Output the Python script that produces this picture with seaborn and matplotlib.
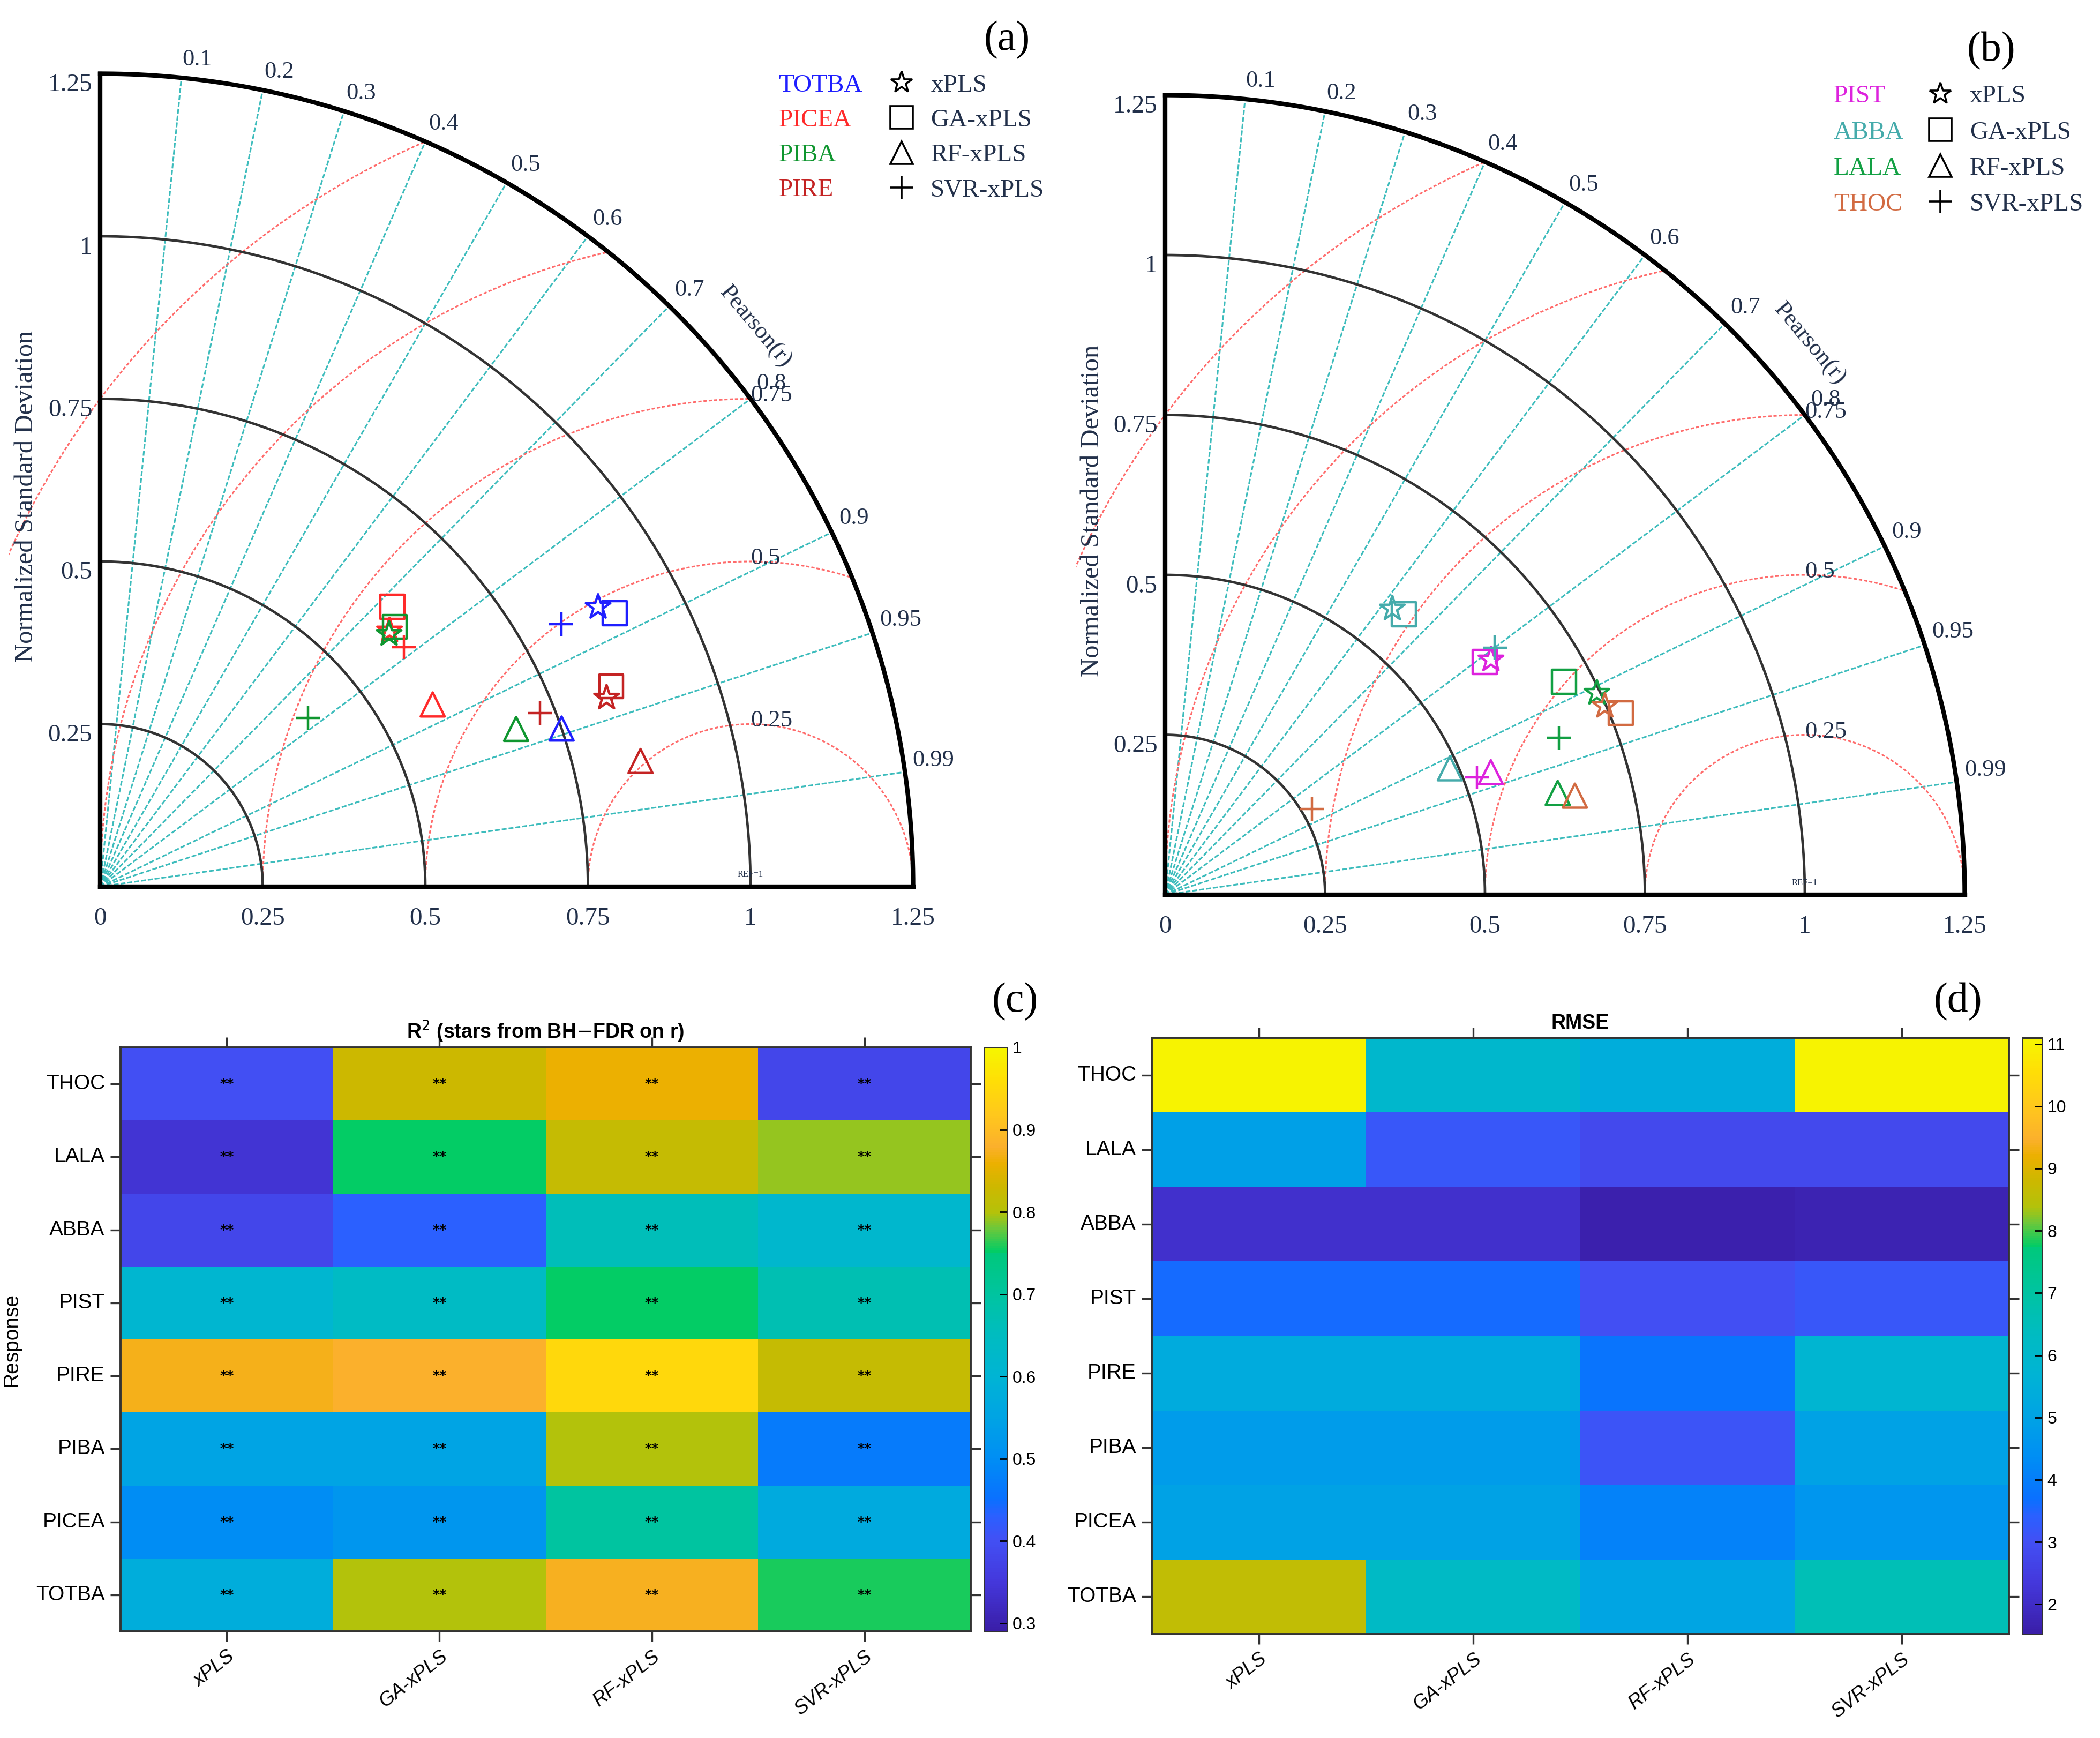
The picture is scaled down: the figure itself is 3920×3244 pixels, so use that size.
import numpy as np
import pandas as pd
import matplotlib
matplotlib.use('Agg')
import matplotlib.pyplot as plt
import seaborn as sns
from matplotlib.colors import LinearSegmentedColormap
from matplotlib.lines import Line2D

# ---------------- data ----------------
models = ['xPLS', 'GA-xPLS', 'RF-xPLS', 'SVR-xPLS']
markers = {'xPLS': '*', 'GA-xPLS': 's', 'RF-xPLS': '^', 'SVR-xPLS': '+'}

# Taylor (a): normalized std and Pearson r, order = models
resp_a = ['TOTBA', 'PICEA', 'PIBA', 'PIRE']
colors_a = ['#1f1fff', '#ff2a2a', '#0f962f', '#c42323']
std_totba = [0.878, 0.896, 0.750, 0.816]
r_totba = [0.872, 0.883, 0.946, 0.869]
std_picea = [0.594, 0.622, 0.583, 0.595]
r_picea = [0.749, 0.722, 0.877, 0.785]
std_piba = [0.590, 0.604, 0.684, 0.412]
r_piba = [0.753, 0.750, 0.935, 0.776]
std_pire = [0.831, 0.844, 0.853, 0.727]
r_pire = [0.937, 0.931, 0.974, 0.930]

# Taylor (b)
resp_b = ['PIST', 'ABBA', 'LALA', 'THOC']
colors_b = ['#dd22dd', '#45abab', '#12a043', '#d26b42']
std_pist = [0.628, 0.618, 0.544, 0.521]
r_pist = [0.811, 0.808, 0.936, 0.936]
std_abba = [0.571, 0.576, 0.487, 0.644]
r_abba = [0.622, 0.648, 0.914, 0.800]
std_lala = [0.745, 0.707, 0.634, 0.663]
r_lala = [0.906, 0.882, 0.968, 0.929]
std_thoc = [0.748, 0.767, 0.659, 0.266]
r_thoc = [0.919, 0.929, 0.972, 0.864]

corr_ticks = [0.1, 0.2, 0.3, 0.4, 0.5, 0.6, 0.7, 0.8, 0.9, 0.95, 0.99]
std_ticks = [0.25, 0.5, 0.75, 1.0, 1.25]
rms_levels = [0.25, 0.5, 0.75, 1.0, 1.25]

# heatmaps, rows top -> bottom
rows = ['THOC', 'LALA', 'ABBA', 'PIST', 'PIRE', 'PIBA', 'PICEA', 'TOTBA']
r2_xpls = [0.40, 0.34, 0.38, 0.61, 0.87, 0.55, 0.50, 0.58]
r2_ga = [0.83, 0.752, 0.43, 0.64, 0.88, 0.55, 0.52, 0.80]
r2_rf = [0.86, 0.82, 0.66, 0.752, 0.95, 0.80, 0.70, 0.875]
r2_svr = [0.38, 0.79, 0.62, 0.67, 0.82, 0.47, 0.57, 0.758]

rmse_xpls = [11.0, 4.9, 2.1, 3.6, 5.3, 4.8, 5.0, 8.6]
rmse_ga = [6.0, 3.2, 2.1, 3.6, 5.3, 4.8, 5.0, 6.2]
rmse_rf = [5.4, 2.8, 1.6, 3.0, 3.8, 3.1, 4.1, 5.1]
rmse_svr = [11.0, 2.8, 1.7, 3.2, 5.8, 5.0, 4.6, 6.6]

# parula-like colormap
cm_pos = [0.0, 0.085, 0.155, 0.197, 0.225, 0.296, 0.366, 0.437, 0.507, 0.577,
          0.648, 0.650, 0.690, 0.718, 0.761, 0.803, 0.831, 0.887, 0.944, 1.0]
cm_col = ['#3a1ea8', '#4438dc', '#4250f4', '#2a60ff', '#0a70ff', '#008ef4', '#00a4e4',
          '#00b4d4', '#00bcc0', '#00c4a0', '#00c87c', '#00cc66', '#6cc83a', '#b4c20a',
          '#ccb800', '#ecb000', '#fbb02c', '#ffc81c', '#ffde06', '#f6f600']
parula = LinearSegmentedColormap.from_list('parula_like', list(zip(cm_pos, cm_col)))

navy = '#22304a'
serif = 'Liberation Serif'
sans = 'Liberation Sans'

fig = plt.figure(figsize=(19.6, 16.22), dpi=200)


def taylor(ax, resp, cols, stds, rs, legend_xy, marker_x, row_h):
    ax.set_xlim(-0.14, 1.45)
    ax.set_ylim(-0.12, 1.36)
    ax.axis('off')
    th = np.linspace(0, np.pi / 2, 300)
    # std arcs
    for s in std_ticks[:-1]:
        ax.plot(s * np.cos(th), s * np.sin(th), color='#333333', lw=1.7, zorder=2)
    ax.plot(1.25 * np.cos(th), 1.25 * np.sin(th), color='black', lw=3.0, zorder=3)
    ax.plot([0, 1.25], [0, 0], color='black', lw=3.0, zorder=3)
    ax.plot([0, 0], [0, 1.25], color='black', lw=3.0, zorder=3)
    # correlation rays
    for c in corr_ticks:
        a = np.arccos(c)
        ax.plot([0, 1.25 * np.cos(a)], [0, 1.25 * np.sin(a)], color='#3cbcbc',
                lw=1.1, ls=(0, (3, 1.2)), zorder=1)
        ax.text(1.262 * np.cos(a), 1.262 * np.sin(a), f'{c:g}', ha='left', va='bottom',
                fontsize=16, family=serif, color=navy)
    # centred RMS arcs
    ph = np.linspace(0, np.pi, 400)
    for rr in rms_levels:
        x = 1 + rr * np.cos(ph)
        y = rr * np.sin(ph)
        m = x ** 2 + y ** 2 <= 1.25 ** 2 + 1e-9
        ax.plot(np.where(m, x, np.nan), np.where(m, y, np.nan), color='#ff6b6b',
                lw=1.1, ls=(0, (2, 1.2)), zorder=1)
        if rr < 1:
            ax.text(1.0, rr + 0.005, f'{rr:g}', ha='left', va='center', fontsize=16,
                    family=serif, color=navy)
    ax.text(1.0, 0.012, 'REF=1', ha='center', va='bottom', fontsize=6,
            family=serif, color=navy)
    # std tick labels
    for s in [0] + std_ticks:
        ax.text(s, -0.032, f'{s:g}', ha='center', va='top', fontsize=17,
                family=serif, color=navy)
    for s in std_ticks:
        ax.text(-0.012, s, f'{s:g}', ha='right', va='top', fontsize=17,
                family=serif, color=navy)
    ax.text(-0.114, 0.6, 'Normalized Standard Deviation', rotation=90, ha='center',
            va='center', fontsize=17.5, family=serif, color=navy)
    ang = np.deg2rad(40.5)
    ax.text(1.325 * np.cos(ang), 1.325 * np.sin(ang), 'Pearson(r)', rotation=-50,
            ha='center', va='center', fontsize=16, family=serif, color=navy)

    # points
    recs = []
    for name, s_list, r_list in zip(resp, stds, rs):
        for mod, s, r in zip(models, s_list, r_list):
            recs.append({'response': name, 'model': mod, 'std': s, 'r': r})
    df = pd.DataFrame(recs)
    df['x'] = df['std'] * df['r']
    df['y'] = df['std'] * np.sqrt(1 - df['r'] ** 2)
    pal = dict(zip(resp, cols))
    for mod in models:
        sub = df[df['model'] == mod]
        n0 = len(ax.collections)
        sns.scatterplot(data=sub, x='x', y='y', hue='response', palette=pal,
                        hue_order=resp, marker=markers[mod],
                        s=300 if mod == 'xPLS' else 260, legend=False, ax=ax, zorder=5)
        for pc in ax.collections[n0:]:
            fc = pc.get_facecolors()
            pc.set_edgecolors(fc)
            pc.set_facecolors('none')
            pc.set_linewidths(1.6)
    ax.set_xlabel('')
    ax.set_ylabel('')

    # legends
    h1 = [Line2D([], [], ls='none') for _ in resp]
    leg1 = ax.legend(h1, resp, loc='upper left', bbox_to_anchor=legend_xy,
                     bbox_transform=ax.transData, frameon=False, handlelength=0,
                     handletextpad=0, borderpad=0, borderaxespad=0, labelcolor=cols,
                     prop={'family': serif, 'size': 17}, labelspacing=row_h)
    ax.add_artist(leg1)
    h2 = [Line2D([], [], ls='none', marker=markers[m], color='black', mfc='none',
                 markersize=15, mew=1.3) for m in models]
    ax.legend(h2, models, loc='upper left', bbox_to_anchor=(marker_x, legend_xy[1]),
              bbox_transform=ax.transData, frameon=False, handlelength=1.0,
              handletextpad=0.66, borderpad=0, borderaxespad=0,
              prop={'family': serif, 'size': 17}, labelspacing=row_h, labelcolor=navy)


W, H = 3920, 3244
# panel a: origin (187,1655), 1214 px/unit
ax_a = fig.add_axes([(187 - 0.14 * 1214) / W, (H - 1655 - 0.12 * 1214) / H,
                     1.59 * 1214 / W, 1.48 * 1214 / H])
taylor(ax_a, resp_a, colors_a,
       [std_totba, std_picea, std_piba, std_pire], [r_totba, r_picea, r_piba, r_pire],
       (1.043, 1.250), 1.2125, 0.47)
# panel b: origin (2175,1670), 1194 px/unit
ax_b = fig.add_axes([(2175 - 0.14 * 1194) / W, (H - 1670 - 0.12 * 1194) / H,
                     1.59 * 1194 / W, 1.48 * 1194 / H])
taylor(ax_b, resp_b, colors_b,
       [std_pist, std_abba, std_lala, std_thoc], [r_pist, r_abba, r_lala, r_thoc],
       (1.045, 1.266), 1.192, 0.51)

# ---------------- heatmaps ----------------
r2 = pd.DataFrame({'xPLS': r2_xpls, 'GA-xPLS': r2_ga, 'RF-xPLS': r2_rf,
                   'SVR-xPLS': r2_svr}, index=rows)
rmse = pd.DataFrame({'xPLS': rmse_xpls, 'GA-xPLS': rmse_ga, 'RF-xPLS': rmse_rf,
                     'SVR-xPLS': rmse_svr}, index=rows)
stars = np.full(r2.shape, '**')


def heat(rect, crect, data, vmin, vmax, cticks, title, annot):
    ax = fig.add_axes([rect[0] / W, (H - rect[3]) / H, (rect[2] - rect[0]) / W,
                       (rect[3] - rect[1]) / H])
    cax = fig.add_axes([crect[0] / W, (H - crect[3]) / H, (crect[2] - crect[0]) / W,
                        (crect[3] - crect[1]) / H])
    sns.heatmap(data, cmap=parula, vmin=vmin, vmax=vmax, ax=ax, cbar_ax=cax,
                annot=annot if annot is not None else False, fmt='',
                annot_kws={'fontsize': 9, 'color': 'black', 'fontweight': 'bold'},
                cbar_kws={'ticks': cticks})
    for sp in ax.spines.values():
        sp.set_visible(True)
        sp.set_linewidth(1.4)
        sp.set_color('#333333')
    ax.tick_params(axis='both', top=True, right=True, direction='out', length=7,
                   width=1.2, color='#333333', labelsize=14)
    ax.set_yticklabels(rows, rotation=0, family=sans, fontsize=14)
    ax.set_xticklabels(models, rotation=38, ha='right', rotation_mode='anchor',
                       family=sans, fontsize=13, style='italic')
    ax.set_xlabel('')
    ax.set_title(title, fontsize=13.5, fontweight='bold', family=sans, pad=6)
    cax.tick_params(direction='in', length=5, width=1, labelsize=11.5)
    cax.set_yticks(cticks)
    cax.set_yticklabels([f'{t:g}' for t in cticks], family=sans)
    for sp in cax.spines.values():
        sp.set_visible(True)
        sp.set_linewidth(1.0)
        sp.set_color('#333333')
    return ax


ax_c = heat((225, 1955, 1812, 3045), (1837, 1955, 1880, 3045), r2, 0.29, 1.0,
            [0.3, 0.4, 0.5, 0.6, 0.7, 0.8, 0.9, 1.0],
            r'R$^{2}$ (stars from BH$-$FDR on r)', stars)
ax_c.set_ylabel('Response', fontsize=14, family=sans, labelpad=10)
ax_d = heat((2150, 1937, 3750, 3050), (3775, 1937, 3812, 3050), rmse, 1.52, 11.1,
            [2, 3, 4, 5, 6, 7, 8, 9, 10, 11], 'RMSE', None)
ax_d.set_ylabel('')

# panel labels
for txt, x, y in [('(a)', 1880, 75), ('(b)', 3717, 95), ('(c)', 1895, 1870),
                  ('(d)', 3655, 1870)]:
    fig.text(x / W, 1 - y / H, txt, ha='center', va='center', fontsize=28, family=serif)

fig.savefig('out.png', dpi=200)
